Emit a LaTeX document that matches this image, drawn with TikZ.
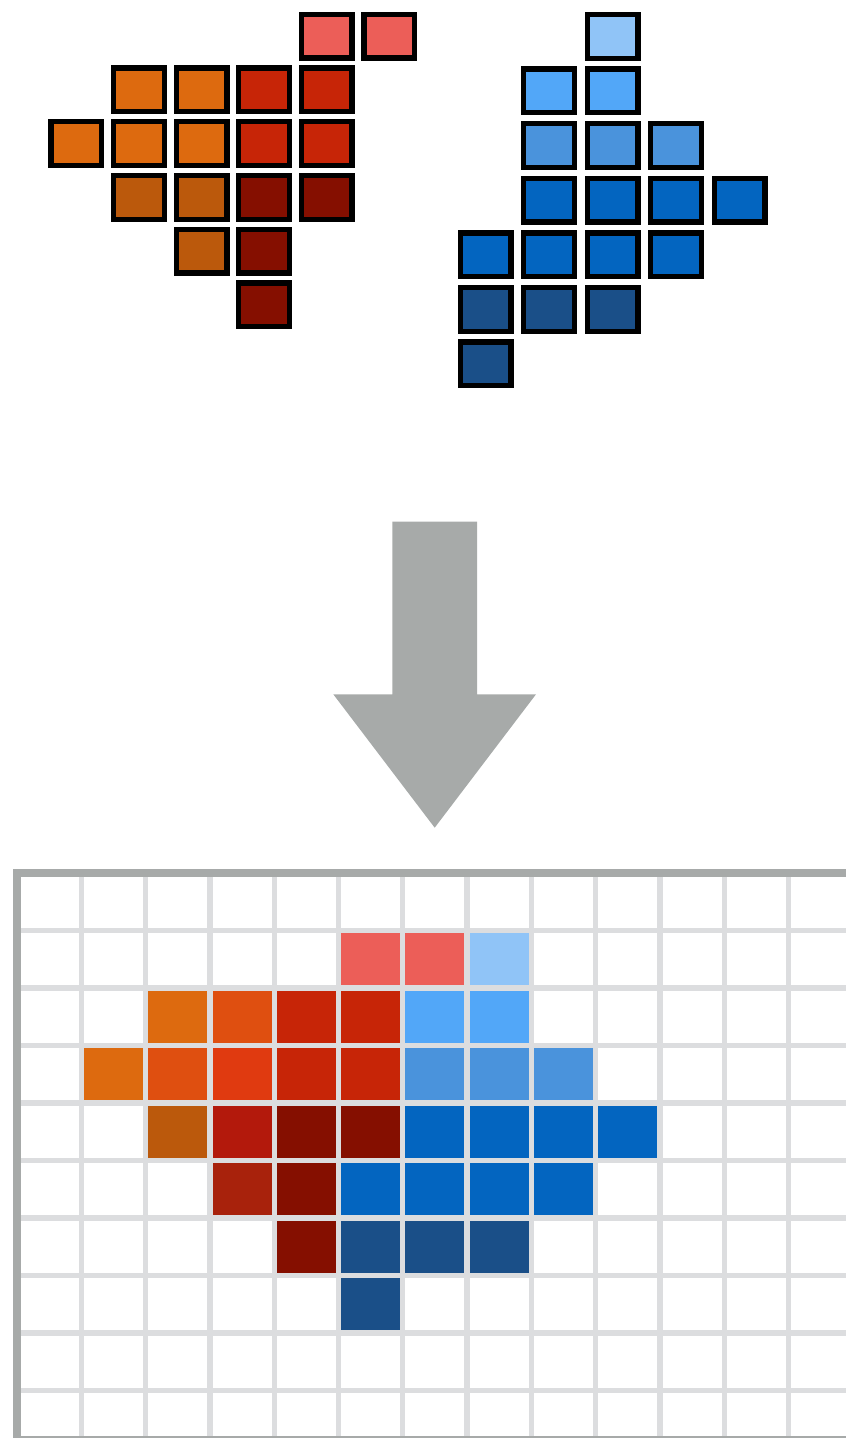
\documentclass[tikz,border=0pt]{standalone}

\definecolor{pinkR}{HTML}{EC5E58}
\definecolor{orangeR}{HTML}{DD6A0F}
\definecolor{redR}{HTML}{C72507}
\definecolor{dorangeR}{HTML}{BB590C}
\definecolor{dredR}{HTML}{850F00}
\definecolor{lblueB}{HTML}{90C4F7}
\definecolor{sblueB}{HTML}{52A7F8}
\definecolor{mblueB}{HTML}{4A93DC}
\definecolor{blueB}{HTML}{0365C0}
\definecolor{dblueB}{HTML}{1A4F88}
\definecolor{mixA}{HTML}{DF4F10}
\definecolor{mixB}{HTML}{E03A10}
\definecolor{mixC}{HTML}{B3190C}
\definecolor{mixD}{HTML}{A8220C}
\definecolor{gridG}{HTML}{DCDDDF}
\definecolor{frameG}{HTML}{A7AAA9}

\begin{document}
\begin{tikzpicture}[x=1pt, y=-1pt,
	tile/.style={draw=black, line width=5.3pt, minimum width=50.7pt, minimum height=43.7pt, inner sep=0pt},
	gridline/.style={gridG, line width=5.3pt},
	frameline/.style={frameG, line width=7.4pt}]
	\useasboundingbox (0,0) rectangle (846,1438);

	% --- 左上：红色一组 ---
	\foreach \r/\c/\col in {0/4/pinkR, 0/5/pinkR,
		1/1/orangeR, 1/2/orangeR, 1/3/redR, 1/4/redR,
		2/0/orangeR, 2/1/orangeR, 2/2/orangeR, 2/3/redR, 2/4/redR,
		3/1/dorangeR, 3/2/dorangeR, 3/3/dredR, 3/4/dredR,
		4/2/dorangeR, 4/3/dredR,
		5/3/dredR}
		\node[tile, fill=\col] (red-\r-\c) at ({76.3+62.6*\c}, {36.2+53.7*\r}) {};

	% --- 右上：蓝色一组 ---
	\foreach \r/\c/\col in {0/2/lblueB,
		1/1/sblueB, 1/2/sblueB,
		2/1/mblueB, 2/2/mblueB, 2/3/mblueB,
		3/1/blueB, 3/2/blueB, 3/3/blueB, 3/4/blueB,
		4/0/blueB, 4/1/blueB, 4/2/blueB, 4/3/blueB,
		5/0/dblueB, 5/1/dblueB, 5/2/dblueB,
		6/0/dblueB}
		\node[tile, fill=\col] (blue-\r-\c) at ({485.5+63.5*\c}, {36.3+54.6*\r}) {};

	% 向下的大箭头
	\fill[frameG] (392.3,521.7) -- (477,521.7) -- (477,694.3) -- (536,694.3)
		-- (434.7,827.7) -- (333.3,694.3) -- (392.3,694.3) -- cycle;

	% --- 下方：合并后的网格 ---
	\begin{scope}
		\clip (0,0) rectangle (846,1438);

		% 着色格子
		\foreach \r/\c/\col in {1/5/pinkR, 1/6/pinkR, 1/7/lblueB,
			2/2/orangeR, 2/3/mixA, 2/4/redR, 2/5/redR, 2/6/sblueB, 2/7/sblueB,
			3/1/orangeR, 3/2/mixA, 3/3/mixB, 3/4/redR, 3/5/redR, 3/6/mblueB, 3/7/mblueB, 3/8/mblueB,
			4/2/dorangeR, 4/3/mixC, 4/4/dredR, 4/5/dredR, 4/6/blueB, 4/7/blueB, 4/8/blueB, 4/9/blueB,
			5/3/mixD, 5/4/dredR, 5/5/blueB, 5/6/blueB, 5/7/blueB, 5/8/blueB,
			6/4/dredR, 6/5/dblueB, 6/6/dblueB, 6/7/dblueB,
			7/5/dblueB}
			\fill[\col] ({17+64.3*\c}, {873+57.5*\r}) rectangle +(64.3,57.5);

		% 网格线
		\foreach \i in {1,...,13}
			\draw[gridline] ({17+64.3*\i},873) -- ({17+64.3*\i},1438);
		\foreach \j in {1,...,9}
			\draw[gridline] (17,{873+57.5*\j}) -- (846,{873+57.5*\j});

		% 外框
		\draw[frameline] (846,873) -- (17,873) -- (17,1439.4) -- (846,1439.4);
	\end{scope}
\end{tikzpicture}
\end{document}
